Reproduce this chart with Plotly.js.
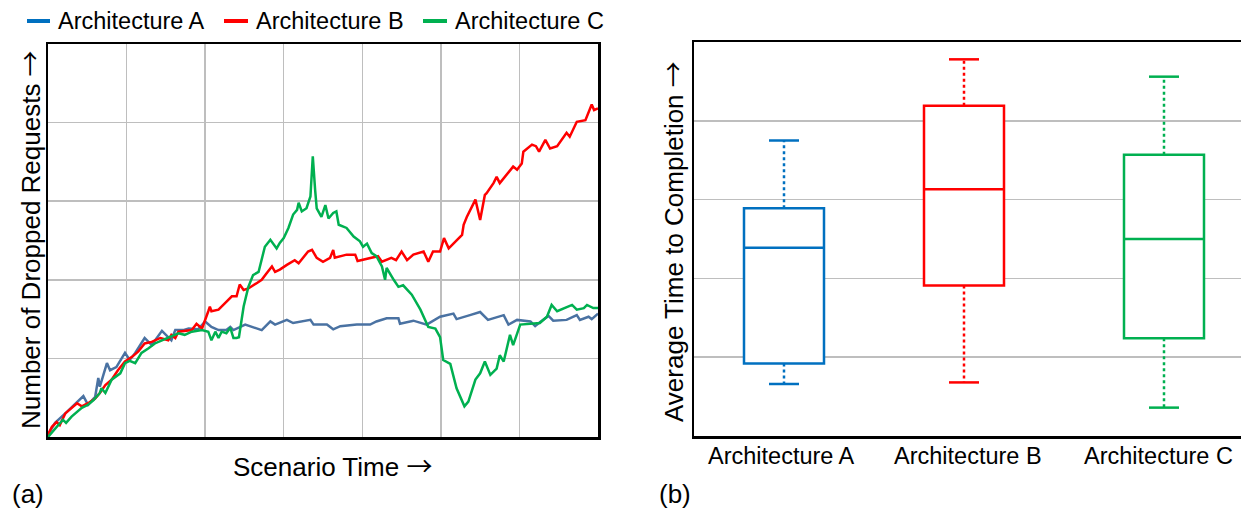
<!DOCTYPE html>
<html><head><meta charset="utf-8">
<script src="https://cdn.plot.ly/plotly-3.0.1.min.js"></script>
<style>html,body{margin:0;padding:0;background:#fff}#chart{width:1241px;height:512px}</style>
</head><body><div id="chart"></div>
<script>
// ---------- DATA ----------
const seriesNames = ["Architecture A", "Architecture B", "Architecture C"];

// (a) Number of dropped requests over scenario time (arbitrary units)
const timeA = [0,9,22,34,45,51,60,64,66,75,79,87,98,104,111,123,132,145,157,162,172,179,191,200,208,217,227,232,236,251,272,283,289,304,312,334,338,355,363,372,393,410,418,431,446,448,465,482,499,516,520,537,550,560,580,586,597,614,620,626,637,643,660,673,677,688,692,700];
const droppedA = [3,18,30,41,52,41,51,75,64,94,85,89,107,98,107,126,117,135,123,136,136,138,137,147,140,136,136,140,136,143,136,147,143,149,145,149,143,143,137,141,143,143,147,151,151,144,148,143,153,157,150,155,159,149,155,143,149,147,141,146,154,148,149,155,149,153,150,157];

const timeB = [0,5,11,15,22,32,37,43,51,60,66,73,81,89,98,107,115,123,132,143,153,157,162,166,183,189,196,204,206,208,217,225,234,240,244,249,255,266,272,278,285,289,295,304,314,319,331,336,342,350,359,363,365,380,391,394,410,420,425,437,443,450,457,465,478,484,490,499,504,510,527,529,533,544,550,556,558,567,571,575,592,597,603,605,616,621,625,633,639,648,660,664,673,684,692,695,700];
const droppedB = [3,13,19,15,30,39,43,39,43,49,56,66,73,85,96,102,109,119,121,126,123,130,126,134,136,144,138,160,166,160,162,170,179,179,194,187,189,196,200,208,217,210,213,219,225,221,236,238,228,223,228,238,228,232,232,224,228,230,223,228,225,236,225,232,236,223,236,236,253,240,257,270,280,302,276,308,310,323,331,323,344,340,348,363,372,370,363,378,367,370,387,382,401,403,423,416,418];

const timeC = [0,13,19,23,30,43,51,58,66,68,73,81,92,98,104,111,119,128,136,145,157,166,174,183,196,204,208,213,217,221,227,232,236,240,243,249,255,261,268,272,276,283,291,295,300,306,312,317,319,323,329,334,337,340,342,348,353,357,363,367,370,380,389,397,401,406,412,418,425,429,431,440,446,452,463,474,478,484,493,499,503,512,520,530,535,544,550,556,563,571,575,580,588,592,601,618,626,635,641,648,667,673,682,686,694,700];
const droppedC = [0,15,22,18,26,37,41,47,56,62,56,73,81,94,97,94,107,113,119,123,128,132,130,134,136,134,123,134,126,134,132,139,126,126,127,166,191,206,210,225,242,251,240,247,253,266,283,289,298,287,291,306,357,314,291,280,295,278,285,287,270,266,255,249,242,246,234,230,217,200,215,200,191,193,181,162,153,140,138,127,98,93,62,39,45,73,81,96,79,87,104,96,130,117,143,145,145,153,168,160,168,162,164,168,164,164];

// (b) Average time to completion, box statistics
const boxLabels = ["Architecture A", "Architecture B", "Architecture C"];
const boxLower  = [0.66, 0.68, 0.36];
const boxQ1     = [0.92, 1.91, 1.24];
const boxMedian = [2.39, 3.13, 2.50];
const boxQ3     = [2.89, 4.19, 3.57];
const boxUpper  = [3.75, 4.78, 4.56];

// ---------- STYLE / LAYOUT ----------
const W = 1241, H = 512;
const fx = x => x / W, fy = y => 1 - y / H;
const FONT = "Liberation Sans, Arial, Helvetica, sans-serif";
const ARROW = '<span style="font-family:\'Noto Sans CJK SC\'">→</span>';
const lineColors = ["#4A72A2", "#FF0000", "#00B050"];
const boxColors  = ["#0070C0", "#FF0000", "#00B050"];
const boxPos  = [0.90, 2.70, 4.70];
const tickPos = [0.87, 2.74, 4.64];
const boxWidth = 0.80, capHalf = 0.15;

const traces = [];
const times = [timeA, timeB, timeC], vals = [droppedA, droppedB, droppedC];
for (let i = 0; i < 3; i++) {
  traces.push({type: "scatter", mode: "lines", x: times[i], y: vals[i], xaxis: "x", yaxis: "y",
    line: {color: lineColors[i], width: 2.5}, name: seriesNames[i], showlegend: false, hoverinfo: "skip"});
}
for (let i = 0; i < 3; i++) {
  const p = boxPos[i];
  traces.push({type: "scatter", mode: "lines", xaxis: "x2", yaxis: "y2", showlegend: false, hoverinfo: "skip",
    x: [p, p, null, p, p], y: [boxQ3[i], boxUpper[i], null, boxQ1[i], boxLower[i]],
    line: {color: boxColors[i], width: 2.5, dash: "dot"}});
  traces.push({type: "scatter", mode: "lines", xaxis: "x2", yaxis: "y2", showlegend: false, hoverinfo: "skip",
    x: [p - capHalf, p + capHalf, null, p - capHalf, p + capHalf],
    y: [boxUpper[i], boxUpper[i], null, boxLower[i], boxLower[i]],
    line: {color: boxColors[i], width: 2.5}});
  traces.push({type: "box", xaxis: "x2", yaxis: "y2", x: [p], q1: [boxQ1[i]], median: [boxMedian[i]], q3: [boxQ3[i]],
    lowerfence: [boxQ1[i]], upperfence: [boxQ3[i]], width: boxWidth, whiskerwidth: 0,
    line: {color: boxColors[i], width: 2.5}, fillcolor: "#FFFFFF", showlegend: false, hoverinfo: "skip", name: boxLabels[i]});
}

const gridC = "#BEBEBE";
const ann = [];
const shapes = [];
// legend
const legX = [[27, 50, 56], [224, 248, 254], [423, 447, 453]];
for (let i = 0; i < 3; i++) {
  shapes.push({type: "line", xref: "paper", yref: "paper", x0: fx(legX[i][0]), x1: fx(legX[i][1]), y0: fy(21), y1: fy(21),
    line: {color: boxColors[i], width: 4}});
  ann.push({xref: "paper", yref: "paper", x: fx(legX[i][2]), y: fy(21), xanchor: "left", yanchor: "middle",
    text: seriesNames[i], showarrow: false, font: {family: FONT, size: 23.5, color: "#000"}});
}
// category labels of panel (b)
for (let i = 0; i < 3; i++) {
  ann.push({xref: "x2", yref: "paper", x: tickPos[i], y: fy(456), xanchor: "center", yanchor: "middle",
    text: boxLabels[i], showarrow: false, font: {family: FONT, size: 23.5, color: "#000"}});
}
ann.push({xref: "paper", yref: "paper", x: fx(28), y: fy(240), xanchor: "center", yanchor: "middle", textangle: -90,
  text: "Number of Dropped Requests " + ARROW, showarrow: false, font: {family: FONT, size: 26, color: "#000"}});
ann.push({xref: "paper", yref: "paper", x: fx(332), y: fy(464), xanchor: "center", yanchor: "middle",
  text: "Scenario Time " + ARROW, showarrow: false, font: {family: FONT, size: 26, color: "#000"}});
ann.push({xref: "paper", yref: "paper", x: fx(671), y: fy(242), xanchor: "center", yanchor: "middle", textangle: -90,
  text: "Average Time to Completion " + ARROW, showarrow: false, font: {family: FONT, size: 26, color: "#000"}});
ann.push({xref: "paper", yref: "paper", x: fx(10), y: fy(494), xanchor: "left", yanchor: "middle",
  text: "(a)", showarrow: false, font: {family: FONT, size: 26, color: "#000"}});
ann.push({xref: "paper", yref: "paper", x: fx(657), y: fy(494), xanchor: "left", yanchor: "middle",
  text: "(b)", showarrow: false, font: {family: FONT, size: 26, color: "#000"}});

const layout = {
  width: W, height: H, margin: {l: 0, r: 0, t: 0, b: 0}, paper_bgcolor: "#fff", plot_bgcolor: "#fff",
  showlegend: false,
  font: {family: FONT, color: "#000"},
  xaxis: {domain: [fx(48), fx(598)], range: [0, 700], dtick: 100, tick0: 0, showticklabels: false, ticks: "",
    showgrid: true, gridcolor: gridC, gridwidth: 1.5, zeroline: false, showline: true, linecolor: "#000", linewidth: 2.5, mirror: true, fixedrange: true},
  yaxis: {domain: [fy(437), fy(44)], range: [0, 500], dtick: 100, tick0: 0, showticklabels: false, ticks: "",
    showgrid: true, gridcolor: gridC, gridwidth: 1.5, zeroline: false, showline: true, linecolor: "#000", linewidth: 2.5, mirror: true, fixedrange: true},
  xaxis2: {domain: [fx(694), 1], range: [0, 5.47], anchor: "y2", showticklabels: false, ticks: "",
    showgrid: false, zeroline: false, showline: true, linecolor: "#000", linewidth: 2.5, mirror: true, fixedrange: true},
  yaxis2: {domain: [fy(436), fy(42)], range: [0, 5], dtick: 1, anchor: "x2", showticklabels: false, ticks: "",
    showgrid: true, gridcolor: gridC, gridwidth: 1.5, zeroline: false, showline: true, linecolor: "#000", linewidth: 2.5, mirror: false, fixedrange: true},
  shapes: shapes, annotations: ann
};
Plotly.newPlot("chart", traces, layout, {staticPlot: true, displayModeBar: false});
</script></body></html>
